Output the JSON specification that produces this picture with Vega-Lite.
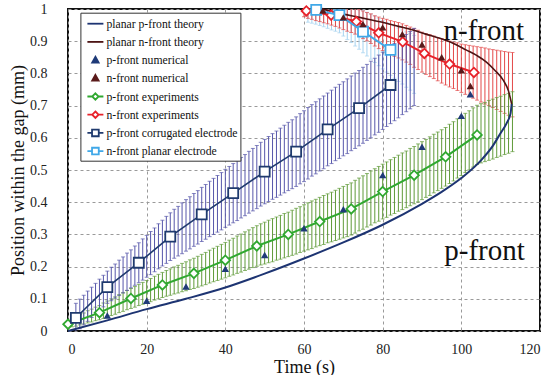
{
"$schema":"https://vega.github.io/schema/vega-lite/v6.json",
"width":472,"height":322,"autosize":"none",
"padding":{"left":68,"top":9,"right":13,"bottom":44},
"background":"white",
"config":{"view":{"stroke":"#111","strokeWidth":2},"font":"Liberation Serif",
"text":{"font":"Liberation Serif"},
"legend":{"labelFont":"Liberation Serif"},
"axis":{"grid":true,"gridDash":[3,3],"gridColor":"#9a9a9a","gridWidth":1,"ticks":false,"domain":false,"labelFont":"Liberation Serif","labelFontSize":14,"labelColor":"#222","titleFont":"Liberation Serif","titleFontSize":18,"titleFontWeight":"normal","titleColor":"#111"}},
"datasets":{
"pcb":[{"t":2,"v":0.041,"e":0.045},{"t":3,"v":0.053,"e":0.046},{"t":4,"v":0.065,"e":0.046},{"t":5,"v":0.077,"e":0.047},{"t":6,"v":0.089,"e":0.047},{"t":7,"v":0.1,"e":0.048},{"t":8,"v":0.112,"e":0.049},{"t":9,"v":0.124,"e":0.049},{"t":10,"v":0.136,"e":0.05},{"t":11,"v":0.146,"e":0.052},{"t":12,"v":0.155,"e":0.053},{"t":13,"v":0.165,"e":0.055},{"t":14,"v":0.174,"e":0.056},{"t":15,"v":0.184,"e":0.058},{"t":16,"v":0.193,"e":0.059},{"t":17,"v":0.203,"e":0.061},{"t":18,"v":0.212,"e":0.062},{"t":19,"v":0.222,"e":0.064},{"t":20,"v":0.232,"e":0.065},{"t":21,"v":0.242,"e":0.067},{"t":22,"v":0.252,"e":0.068},{"t":23,"v":0.263,"e":0.07},{"t":24,"v":0.273,"e":0.071},{"t":25,"v":0.283,"e":0.073},{"t":26,"v":0.293,"e":0.074},{"t":27,"v":0.302,"e":0.076},{"t":28,"v":0.31,"e":0.077},{"t":29,"v":0.319,"e":0.079},{"t":30,"v":0.328,"e":0.08},{"t":31,"v":0.336,"e":0.081},{"t":32,"v":0.345,"e":0.082},{"t":33,"v":0.353,"e":0.083},{"t":34,"v":0.362,"e":0.084},{"t":35,"v":0.37,"e":0.085},{"t":36,"v":0.379,"e":0.086},{"t":37,"v":0.387,"e":0.087},{"t":38,"v":0.395,"e":0.088},{"t":39,"v":0.403,"e":0.089},{"t":40,"v":0.412,"e":0.09},{"t":41,"v":0.42,"e":0.091},{"t":42,"v":0.428,"e":0.092},{"t":43,"v":0.436,"e":0.093},{"t":44,"v":0.445,"e":0.094},{"t":45,"v":0.453,"e":0.095},{"t":46,"v":0.462,"e":0.096},{"t":47,"v":0.47,"e":0.097},{"t":48,"v":0.478,"e":0.098},{"t":49,"v":0.487,"e":0.099},{"t":50,"v":0.495,"e":0.1},{"t":51,"v":0.503,"e":0.101},{"t":52,"v":0.511,"e":0.102},{"t":53,"v":0.518,"e":0.103},{"t":54,"v":0.526,"e":0.104},{"t":55,"v":0.534,"e":0.105},{"t":56,"v":0.542,"e":0.106},{"t":57,"v":0.549,"e":0.107},{"t":58,"v":0.557,"e":0.108},{"t":59,"v":0.566,"e":0.109},{"t":60,"v":0.574,"e":0.11},{"t":61,"v":0.583,"e":0.111},{"t":62,"v":0.592,"e":0.111},{"t":63,"v":0.6,"e":0.112},{"t":64,"v":0.609,"e":0.112},{"t":65,"v":0.617,"e":0.113},{"t":66,"v":0.626,"e":0.113},{"t":67,"v":0.634,"e":0.114},{"t":68,"v":0.643,"e":0.114},{"t":69,"v":0.651,"e":0.115},{"t":70,"v":0.659,"e":0.115},{"t":71,"v":0.667,"e":0.116},{"t":72,"v":0.676,"e":0.116},{"t":73,"v":0.684,"e":0.117},{"t":74,"v":0.692,"e":0.117},{"t":75,"v":0.701,"e":0.118},{"t":76,"v":0.71,"e":0.118},{"t":77,"v":0.719,"e":0.119},{"t":78,"v":0.728,"e":0.119},{"t":79,"v":0.737,"e":0.12},{"t":80,"v":0.746,"e":0.12},{"t":81,"v":0.755,"e":0.12},{"t":82,"v":0.764,"e":0.12},{"t":83,"v":0.773,"e":0.12},{"t":84,"v":0.782,"e":0.12},{"t":85,"v":0.792,"e":0.12},{"t":86,"v":0.801,"e":0.12},{"t":87,"v":0.81,"e":0.12},{"t":88,"v":0.82,"e":0.12}],
"peb":[{"t":0,"v":0.021,"e":0.012},{"t":1,"v":0.026,"e":0.013},{"t":2,"v":0.03,"e":0.015},{"t":3,"v":0.035,"e":0.016},{"t":4,"v":0.039,"e":0.017},{"t":5,"v":0.044,"e":0.019},{"t":6,"v":0.048,"e":0.02},{"t":7,"v":0.053,"e":0.021},{"t":8,"v":0.057,"e":0.022},{"t":9,"v":0.063,"e":0.024},{"t":10,"v":0.068,"e":0.025},{"t":11,"v":0.074,"e":0.026},{"t":12,"v":0.079,"e":0.027},{"t":13,"v":0.085,"e":0.028},{"t":14,"v":0.09,"e":0.029},{"t":15,"v":0.096,"e":0.03},{"t":16,"v":0.101,"e":0.031},{"t":17,"v":0.106,"e":0.032},{"t":18,"v":0.112,"e":0.033},{"t":19,"v":0.117,"e":0.034},{"t":20,"v":0.122,"e":0.035},{"t":21,"v":0.127,"e":0.036},{"t":22,"v":0.133,"e":0.037},{"t":23,"v":0.138,"e":0.038},{"t":24,"v":0.143,"e":0.039},{"t":25,"v":0.148,"e":0.04},{"t":26,"v":0.152,"e":0.041},{"t":27,"v":0.157,"e":0.042},{"t":28,"v":0.161,"e":0.043},{"t":29,"v":0.166,"e":0.044},{"t":30,"v":0.17,"e":0.045},{"t":31,"v":0.175,"e":0.046},{"t":32,"v":0.179,"e":0.047},{"t":33,"v":0.184,"e":0.048},{"t":34,"v":0.189,"e":0.049},{"t":35,"v":0.194,"e":0.05},{"t":36,"v":0.2,"e":0.051},{"t":37,"v":0.205,"e":0.052},{"t":38,"v":0.21,"e":0.053},{"t":39,"v":0.215,"e":0.054},{"t":40,"v":0.22,"e":0.055},{"t":41,"v":0.226,"e":0.056},{"t":42,"v":0.231,"e":0.057},{"t":43,"v":0.237,"e":0.058},{"t":44,"v":0.242,"e":0.059},{"t":45,"v":0.248,"e":0.06},{"t":46,"v":0.253,"e":0.061},{"t":47,"v":0.259,"e":0.062},{"t":48,"v":0.264,"e":0.063},{"t":49,"v":0.269,"e":0.064},{"t":50,"v":0.273,"e":0.065},{"t":51,"v":0.278,"e":0.066},{"t":52,"v":0.282,"e":0.067},{"t":53,"v":0.287,"e":0.067},{"t":54,"v":0.291,"e":0.068},{"t":55,"v":0.296,"e":0.069},{"t":56,"v":0.3,"e":0.069},{"t":57,"v":0.305,"e":0.07},{"t":58,"v":0.31,"e":0.071},{"t":59,"v":0.315,"e":0.071},{"t":60,"v":0.32,"e":0.072},{"t":61,"v":0.325,"e":0.073},{"t":62,"v":0.33,"e":0.074},{"t":63,"v":0.335,"e":0.074},{"t":64,"v":0.34,"e":0.075},{"t":65,"v":0.345,"e":0.076},{"t":66,"v":0.35,"e":0.076},{"t":67,"v":0.354,"e":0.077},{"t":68,"v":0.359,"e":0.078},{"t":69,"v":0.364,"e":0.079},{"t":70,"v":0.369,"e":0.08},{"t":71,"v":0.374,"e":0.081},{"t":72,"v":0.379,"e":0.081},{"t":73,"v":0.386,"e":0.082},{"t":74,"v":0.393,"e":0.082},{"t":75,"v":0.399,"e":0.083},{"t":76,"v":0.406,"e":0.083},{"t":77,"v":0.413,"e":0.084},{"t":78,"v":0.42,"e":0.084},{"t":79,"v":0.426,"e":0.085},{"t":80,"v":0.433,"e":0.085},{"t":81,"v":0.439,"e":0.086},{"t":82,"v":0.446,"e":0.086},{"t":83,"v":0.452,"e":0.087},{"t":84,"v":0.459,"e":0.087},{"t":85,"v":0.465,"e":0.088},{"t":86,"v":0.471,"e":0.088},{"t":87,"v":0.478,"e":0.089},{"t":88,"v":0.484,"e":0.089},{"t":89,"v":0.491,"e":0.09},{"t":90,"v":0.498,"e":0.09},{"t":91,"v":0.505,"e":0.09},{"t":92,"v":0.512,"e":0.091},{"t":93,"v":0.52,"e":0.091},{"t":94,"v":0.527,"e":0.091},{"t":95,"v":0.534,"e":0.091},{"t":96,"v":0.541,"e":0.091},{"t":97,"v":0.55,"e":0.092},{"t":98,"v":0.558,"e":0.092},{"t":99,"v":0.567,"e":0.092},{"t":100,"v":0.575,"e":0.092},{"t":101,"v":0.584,"e":0.092},{"t":102,"v":0.592,"e":0.092},{"t":103,"v":0.601,"e":0.092},{"t":104,"v":0.609,"e":0.092},{"t":105,"v":0.614,"e":0.092},{"t":106,"v":0.618,"e":0.092},{"t":107,"v":0.623,"e":0.093},{"t":108,"v":0.627,"e":0.093},{"t":109,"v":0.632,"e":0.093},{"t":110,"v":0.636,"e":0.093},{"t":111,"v":0.641,"e":0.093},{"t":112,"v":0.645,"e":0.093},{"t":113,"v":0.65,"e":0.093}],
"neb":[{"t":60,"v":0.996,"e":0.02},{"t":61,"v":0.993,"e":0.022},{"t":62,"v":0.991,"e":0.023},{"t":63,"v":0.989,"e":0.025},{"t":64,"v":0.987,"e":0.026},{"t":65,"v":0.985,"e":0.028},{"t":66,"v":0.983,"e":0.029},{"t":67,"v":0.981,"e":0.031},{"t":68,"v":0.978,"e":0.032},{"t":69,"v":0.975,"e":0.034},{"t":70,"v":0.971,"e":0.035},{"t":71,"v":0.968,"e":0.037},{"t":72,"v":0.965,"e":0.038},{"t":73,"v":0.962,"e":0.04},{"t":74,"v":0.957,"e":0.041},{"t":75,"v":0.951,"e":0.043},{"t":76,"v":0.945,"e":0.044},{"t":77,"v":0.939,"e":0.046},{"t":78,"v":0.932,"e":0.047},{"t":79,"v":0.926,"e":0.049},{"t":80,"v":0.921,"e":0.05},{"t":81,"v":0.917,"e":0.051},{"t":82,"v":0.912,"e":0.052},{"t":83,"v":0.907,"e":0.054},{"t":84,"v":0.903,"e":0.055},{"t":85,"v":0.898,"e":0.056},{"t":86,"v":0.892,"e":0.057},{"t":87,"v":0.886,"e":0.058},{"t":88,"v":0.879,"e":0.06},{"t":89,"v":0.873,"e":0.061},{"t":90,"v":0.866,"e":0.062},{"t":91,"v":0.86,"e":0.063},{"t":92,"v":0.855,"e":0.065},{"t":93,"v":0.85,"e":0.066},{"t":94,"v":0.844,"e":0.067},{"t":95,"v":0.839,"e":0.069},{"t":96,"v":0.834,"e":0.07},{"t":97,"v":0.829,"e":0.071},{"t":98,"v":0.825,"e":0.072},{"t":99,"v":0.821,"e":0.074},{"t":100,"v":0.816,"e":0.075},{"t":101,"v":0.812,"e":0.077},{"t":102,"v":0.808,"e":0.079},{"t":103,"v":0.804,"e":0.081},{"t":104,"v":0.8,"e":0.083},{"t":105,"v":0.796,"e":0.085},{"t":106,"v":0.792,"e":0.087},{"t":107,"v":0.788,"e":0.088},{"t":108,"v":0.784,"e":0.09},{"t":109,"v":0.78,"e":0.092},{"t":110,"v":0.776,"e":0.094},{"t":111,"v":0.772,"e":0.096},{"t":112,"v":0.768,"e":0.098},{"t":113,"v":0.765,"e":0.1}],
"npb":[{"t":61,"v":0.999,"e":0.04},{"t":62,"v":0.998,"e":0.042},{"t":63,"v":0.997,"e":0.044},{"t":64,"v":0.995,"e":0.046},{"t":65,"v":0.992,"e":0.047},{"t":66,"v":0.989,"e":0.049},{"t":67,"v":0.986,"e":0.051},{"t":68,"v":0.984,"e":0.053},{"t":69,"v":0.981,"e":0.055},{"t":70,"v":0.973,"e":0.057},{"t":71,"v":0.964,"e":0.059},{"t":72,"v":0.956,"e":0.06},{"t":73,"v":0.947,"e":0.062},{"t":74,"v":0.939,"e":0.064},{"t":75,"v":0.93,"e":0.066},{"t":76,"v":0.922,"e":0.068},{"t":77,"v":0.914,"e":0.07},{"t":78,"v":0.906,"e":0.072},{"t":79,"v":0.897,"e":0.073},{"t":80,"v":0.889,"e":0.075},{"t":81,"v":0.881,"e":0.077},{"t":82,"v":0.873,"e":0.079},{"t":83,"v":0.866,"e":0.081},{"t":84,"v":0.858,"e":0.083},{"t":85,"v":0.851,"e":0.084},{"t":86,"v":0.843,"e":0.086},{"t":87,"v":0.836,"e":0.088},{"t":88,"v":0.828,"e":0.09}],
"thp":[{"t":0,"v":0},{"t":10,"v":0.033},{"t":20,"v":0.068},{"t":30,"v":0.1},{"t":40,"v":0.135},{"t":50,"v":0.178},{"t":60,"v":0.225},{"t":70,"v":0.275},{"t":80,"v":0.33},{"t":90,"v":0.395},{"t":95,"v":0.432},{"t":100,"v":0.475},{"t":105,"v":0.53},{"t":108,"v":0.575},{"t":110,"v":0.615},{"t":111.5,"v":0.645},{"t":112.5,"v":0.675},{"t":112.8,"v":0.705}],
"thn":[{"t":64.5,"v":1.0},{"t":67.3,"v":0.992},{"t":70,"v":0.984},{"t":74.1,"v":0.974},{"t":77.5,"v":0.965},{"t":80.9,"v":0.956},{"t":84,"v":0.946},{"t":87.7,"v":0.935},{"t":91,"v":0.922},{"t":94.5,"v":0.909},{"t":98,"v":0.893},{"t":101.2,"v":0.873},{"t":104,"v":0.855},{"t":106.3,"v":0.836},{"t":108.5,"v":0.81},{"t":110.6,"v":0.78},{"t":112,"v":0.745},{"t":112.8,"v":0.705}],
"pe":[{"t":0,"v":0.021},{"t":8,"v":0.057},{"t":16,"v":0.101},{"t":24,"v":0.143},{"t":32,"v":0.179},{"t":40,"v":0.22},{"t":48,"v":0.264},{"t":56,"v":0.3},{"t":64,"v":0.34},{"t":72,"v":0.379},{"t":80,"v":0.433},{"t":88,"v":0.484},{"t":96,"v":0.541},{"t":104,"v":0.609}],
"ne":[{"t":60.6,"v":0.994},{"t":66.9,"v":0.981},{"t":73.3,"v":0.961},{"t":79,"v":0.926},{"t":85.1,"v":0.898},{"t":90.6,"v":0.862},{"t":97,"v":0.829},{"t":103.2,"v":0.803}],
"pc":[{"t":2,"v":0.041},{"t":10,"v":0.136},{"t":18,"v":0.212},{"t":26,"v":0.293},{"t":34,"v":0.362},{"t":42,"v":0.428},{"t":50,"v":0.495},{"t":58,"v":0.557},{"t":66,"v":0.626},{"t":74,"v":0.692},{"t":82,"v":0.764}],
"np":[{"t":63.1,"v":0.997},{"t":69,"v":0.981},{"t":75,"v":0.93},{"t":82,"v":0.873}],
"pn":[{"t":10,"v":0.048},{"t":20,"v":0.094},{"t":30,"v":0.138},{"t":40,"v":0.193},{"t":50,"v":0.236},{"t":60,"v":0.319},{"t":70,"v":0.378},{"t":80,"v":0.484},{"t":90,"v":0.572},{"t":100,"v":0.668},{"t":102.3,"v":0.735}],
"nn":[{"t":64.8,"v":0.995},{"t":70,"v":0.974},{"t":75,"v":0.953},{"t":80,"v":0.943},{"t":85,"v":0.922},{"t":90,"v":0.89},{"t":95,"v":0.85},{"t":100,"v":0.81},{"t":102.3,"v":0.761}],
"txt":[{"t":105.7,"v":0.903,"label":"n-front"},{"t":105.9,"v":0.221,"label":"p-front"}],
"leg":[{"s":"planar p-front theory"},{"s":"planar n-front theory"},{"s":"p-front numerical"},{"s":"n-front numerical"},{"s":"p-front experiments"},{"s":"n-front experiments"},{"s":"p-front corrugated electrode"},{"s":"n-front planar electrode"}]
},
"encoding":{
"x":{"field":"t","type":"quantitative","scale":{"domain":[0,120],"nice":false},"axis":{"title":"Time (s)","values":[0,20,40,60,80,100,120],"labelFont":"Liberation Serif","titleFont":"Liberation Serif","labelPadding":11,"titlePadding":2}},
"y":{"field":"v","type":"quantitative","scale":{"domain":[0,1],"nice":false},"axis":{"title":"Position within the gap (mm)","values":[0,0.1,0.2,0.3,0.4,0.5,0.6,0.7,0.8,0.9,1],"format":"~g","labelFont":"Liberation Serif","titleFont":"Liberation Serif","labelPadding":21,"titlePadding":2}}
},
"layer":[
{"data":{"name":"npb"},"mark":{"type":"errorbar","color":"#a4d2f0","thickness":1,"ticks":{"size":4},"clip":true},"encoding":{"yError":{"field":"e"}}},
{"data":{"name":"neb"},"mark":{"type":"errorbar","color":"#e34848","thickness":1,"ticks":{"size":4},"clip":true},"encoding":{"yError":{"field":"e"}}},
{"data":{"name":"peb"},"mark":{"type":"errorbar","color":"#5f9a38","thickness":1,"ticks":{"size":4},"clip":true},"encoding":{"yError":{"field":"e"}}},
{"data":{"name":"pcb"},"mark":{"type":"errorbar","color":"#5656aa","thickness":1,"ticks":{"size":4},"clip":true},"encoding":{"yError":{"field":"e"}}},
{"data":{"name":"thp"},"mark":{"type":"line","color":"#1d3472","strokeWidth":2,"interpolate":"monotone"}},
{"data":{"name":"thn"},"mark":{"type":"line","color":"#4d1414","strokeWidth":1.6,"interpolate":"monotone"}},
{"data":{"name":"pe"},"mark":{"type":"line","color":"#30a830","strokeWidth":2}},
{"data":{"name":"pe"},"mark":{"type":"point","shape":"diamond","filled":true,"fill":"white","stroke":"#30a830","strokeWidth":1.8,"size":90,"opacity":1}},
{"data":{"name":"ne"},"mark":{"type":"line","color":"#e8222a","strokeWidth":2}},
{"data":{"name":"ne"},"mark":{"type":"point","shape":"diamond","filled":true,"fill":"white","stroke":"#e8222a","strokeWidth":1.8,"size":90,"opacity":1}},
{"data":{"name":"pc"},"mark":{"type":"line","color":"#1f3a6e","strokeWidth":1.6}},
{"data":{"name":"pc"},"mark":{"type":"point","shape":"square","filled":true,"fill":"white","stroke":"#1f3a6e","strokeWidth":1.8,"size":100,"opacity":1}},
{"data":{"name":"np"},"mark":{"type":"line","color":"#40a8e8","strokeWidth":2}},
{"data":{"name":"np"},"mark":{"type":"point","shape":"square","filled":true,"fill":"white","stroke":"#40a8e8","strokeWidth":1.8,"size":100,"opacity":1}},
{"data":{"name":"pn"},"mark":{"type":"point","shape":"triangle-up","filled":true,"color":"#1f3a78","size":55,"opacity":1}},
{"data":{"name":"nn"},"mark":{"type":"point","shape":"triangle-up","filled":true,"color":"#5a1a1a","size":55,"opacity":1}},
{"data":{"name":"txt"},"mark":{"type":"text","font":"Liberation Serif","fontSize":29,"baseline":"alphabetic","align":"center","color":"#111"},"encoding":{"text":{"field":"label"}}},
{"data":{"name":"leg"},"mark":{"type":"point","invalid":"filter","opacity":1,"filled":true},
"encoding":{
"shape":{"field":"s","type":"nominal","scale":{"domain":["planar p-front theory","planar n-front theory","p-front numerical","n-front numerical","p-front experiments","n-front experiments","p-front corrugated electrode","n-front planar electrode"],"range":["M-1,0H1","M-1,0H1","M0,-0.42L0.4,0.3L-0.4,0.3Z","M0,-0.42L0.4,0.3L-0.4,0.3Z","M-1,0H-0.4M0.4,0H1M0,-0.4L0.4,0L0,0.4L-0.4,0Z","M-1,0H-0.4M0.4,0H1M0,-0.4L0.4,0L0,0.4L-0.4,0Z","M-1,0H-0.42M0.42,0H1M-0.42,-0.42H0.42V0.42H-0.42Z","M-1,0H-0.42M0.42,0H1M-0.42,-0.42H0.42V0.42H-0.42Z"]},
"legend":{"orient":"none","legendX":12.4,"legendY":3.7,"title":null,"symbolSize":256,"symbolStrokeWidth":1.8,"symbolOffset":4,"labelFont":"Liberation Serif","labelFontSize":11.7,"labelColor":"#111","labelOffset":2,"rowPadding":2.2,"padding":2,"strokeColor":"#333","fillColor":"white","labelLimit":300}},
"stroke":{"field":"s","type":"nominal","scale":{"domain":["planar p-front theory","planar n-front theory","p-front numerical","n-front numerical","p-front experiments","n-front experiments","p-front corrugated electrode","n-front planar electrode"],"range":["#1d3472","#4d1414","#1f3a78","#5a1a1a","#30a830","#e8222a","#1f3a6e","#40a8e8"]},
"legend":{"orient":"none","legendX":12.4,"legendY":3.7,"title":null,"symbolSize":256,"symbolStrokeWidth":1.8,"symbolOffset":4,"labelFont":"Liberation Serif","labelFontSize":11.7,"labelColor":"#111","labelOffset":2,"rowPadding":2.2,"padding":2,"strokeColor":"#333","fillColor":"white","labelLimit":300}},
"fill":{"field":"s","type":"nominal","scale":{"domain":["planar p-front theory","planar n-front theory","p-front numerical","n-front numerical","p-front experiments","n-front experiments","p-front corrugated electrode","n-front planar electrode"],"range":["transparent","transparent","#1f3a78","#5a1a1a","white","white","white","white"]},
"legend":{"orient":"none","legendX":12.4,"legendY":3.7,"title":null,"symbolSize":256,"symbolStrokeWidth":1.8,"symbolOffset":4,"labelFont":"Liberation Serif","labelFontSize":11.7,"labelColor":"#111","labelOffset":2,"rowPadding":2.2,"padding":2,"strokeColor":"#333","fillColor":"white","labelLimit":300}}
}}
]
}
